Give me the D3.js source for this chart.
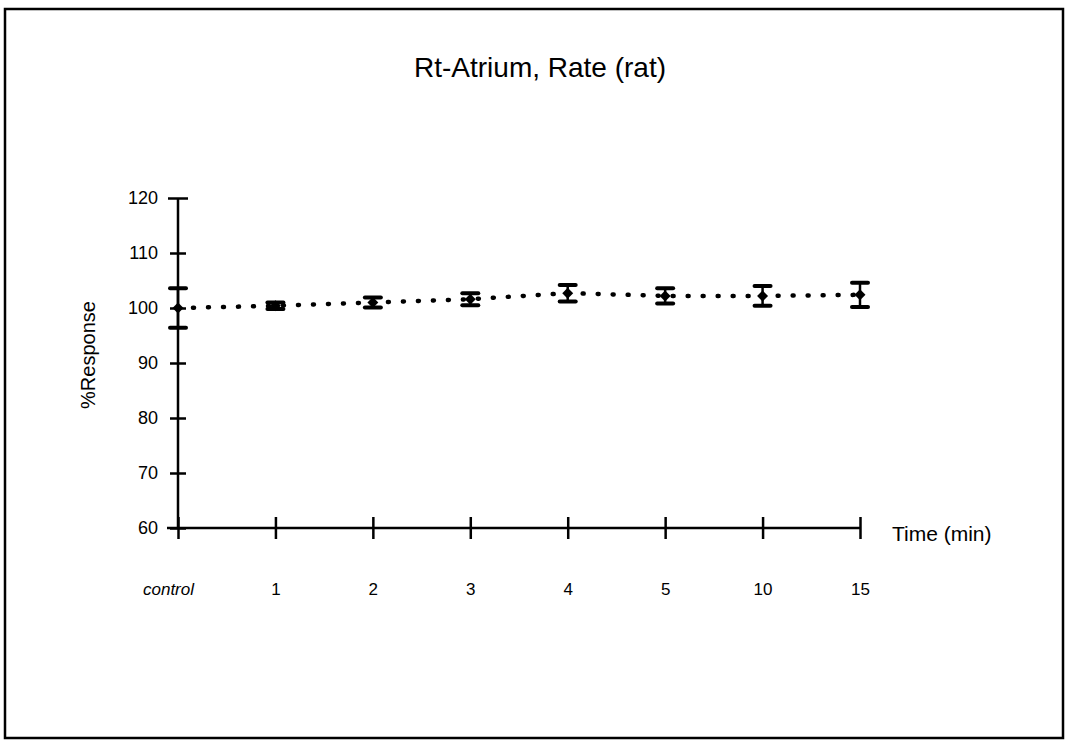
<!DOCTYPE html>
<meta charset="utf-8">
<title>Rt-Atrium, Rate (rat)</title>
<style>
    body { margin: 0; background: #fff; }
    text { font-family: "Liberation Sans", Arial, sans-serif; fill: #000; }
    .axis path { display: none; }
    .axis line { stroke: #000; stroke-width: 2.5px; }
    .axis text { font-size: 18px; }
</style>
<svg width="1069" height="745"></svg>
<script src="https://d3js.org/d3.v7.min.js"></script>
<script>

    // data
    var times = ["control", "1", "2", "3", "4", "5", "10", "15"];
    var response = [100, 100.4, 101.0, 101.6, 102.7, 102.2, 102.2, 102.4];
    var sem = [3.6, 0.6, 0.9, 1.1, 1.5, 1.4, 1.8, 2.2];
    var yTicks = [60, 70, 80, 90, 100, 110, 120];

    var points = times.map(function (t, i) {
        return { t: t, v: response[i], e: sem[i] };
    });

    var svg = d3.select("svg");

    // frame around the chart
    svg.append("rect")
        .attr("x", 5).attr("y", 9)
        .attr("width", 1058).attr("height", 729)
        .attr("fill", "none")
        .attr("stroke", "#000")
        .attr("stroke-width", 2.5);

    var x = d3.scalePoint().domain(times).range([178, 860]);
    var y = d3.scaleLinear().domain([60, 120]).range([528, 198]);

    // x axis, ticks cross the line
    var xAxis = svg.append("g")
        .attr("class", "axis")
        .attr("transform", "translate(0," + y(60) + ")")
        .call(d3.axisBottom(x).tickSize(11).tickPadding(44));

    xAxis.selectAll(".tick line").attr("y1", -11);
    xAxis.selectAll(".tick text")
        .style("font-size", "17px")
        .style("font-style", function (d) { return d == "control" ? "italic" : null; })
        .attr("dx", function (d) { return d == "control" ? -10 : 0; });

    xAxis.append("line")
        .attr("x1", x("control") - 11).attr("x2", x("15"))
        .attr("y1", 0).attr("y2", 0);

    // y axis
    var yAxis = svg.append("g")
        .attr("class", "axis")
        .attr("transform", "translate(" + x("control") + ",0)")
        .call(d3.axisLeft(y).tickValues(yTicks).tickSize(7).tickPadding(13));

    yAxis.selectAll(".tick line")
        .attr("x2", function (d) { return d == 120 ? 10 : 8; })
        .attr("x1", function (d) { return d == 120 ? -10 : -8; });

    yAxis.append("line")
        .attr("x1", 0).attr("x2", 0)
        .attr("y1", y(120)).attr("y2", y(60));

    svg.append("text")
        .attr("x", 540).attr("y", 77)
        .attr("text-anchor", "middle")
        .style("font-size", "28px")
        .text("Rt-Atrium, Rate (rat)");

    svg.append("text")
        .attr("transform", "translate(95,355) rotate(-90)")
        .attr("text-anchor", "middle")
        .style("font-size", "20px")
        .text("%Response");

    svg.append("text")
        .attr("x", 892).attr("y", 541)
        .style("font-size", "21px")
        .text("Time (min)");

    // dotted connecting line
    var line = d3.line()
        .x(function (d) { return x(d.t); })
        .y(function (d) { return y(d.v); });

    svg.append("path")
        .datum(points)
        .attr("d", line)
        .attr("fill", "none")
        .attr("stroke", "#000")
        .attr("stroke-width", 4.5)
        .attr("stroke-linecap", "round")
        .attr("stroke-dasharray", "1 14");

    // error bars
    var bars = svg.append("g")
        .selectAll("g")
        .data(points)
        .enter().append("g")
        .attr("stroke", "#000");

    bars.append("line")
        .attr("x1", function (d) { return x(d.t); })
        .attr("x2", function (d) { return x(d.t); })
        .attr("y1", function (d) { return y(d.v + d.e); })
        .attr("y2", function (d) { return y(d.v - d.e); })
        .attr("stroke-width", 2.5);

    [1, -1].forEach(function (s) {
        bars.append("line")
            .attr("x1", function (d) { return x(d.t) - 8; })
            .attr("x2", function (d) { return x(d.t) + 8; })
            .attr("y1", function (d) { return y(d.v + s * d.e); })
            .attr("y2", function (d) { return y(d.v + s * d.e); })
            .attr("stroke-width", 4)
            .attr("stroke-linecap", "round");
    });

    // diamond markers
    svg.append("g")
        .selectAll("path")
        .data(points)
        .enter().append("path")
        .attr("d", d3.symbol().type(d3.symbolSquare).size(60))
        .attr("transform", function (d) {
            return "translate(" + x(d.t) + "," + y(d.v) + ") rotate(45)";
        })
        .attr("fill", "#000");

</script>
